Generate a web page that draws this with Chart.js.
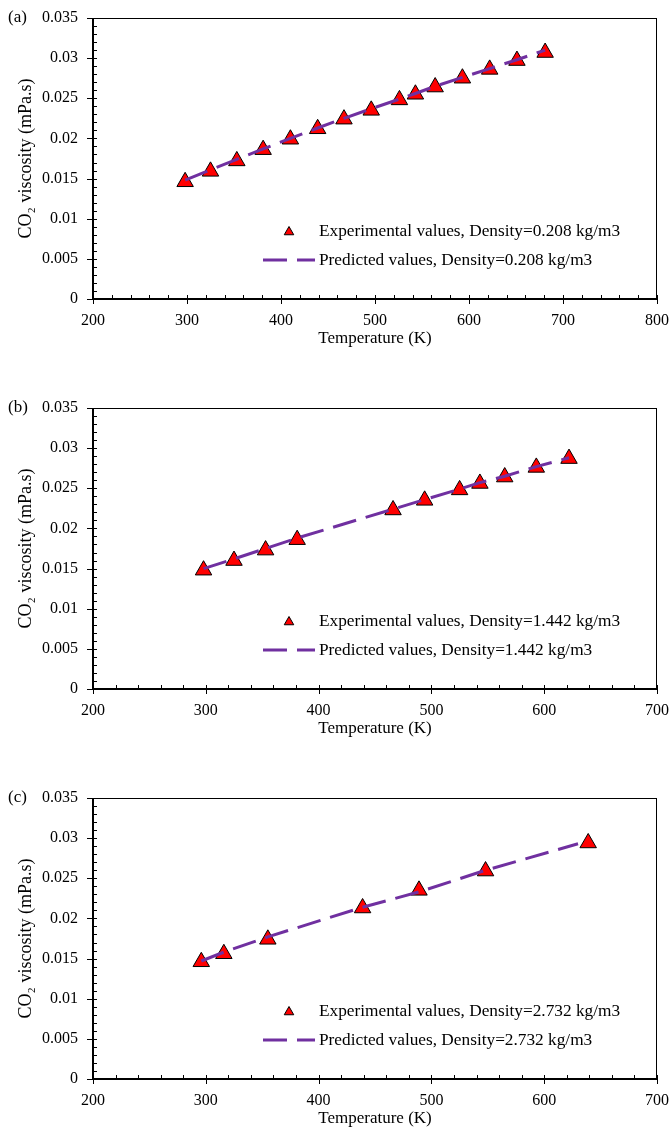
<!DOCTYPE html>
<html lang="en">
<head>
    <meta charset="UTF-8">
    <title>CO2 viscosity</title>
    <script src="https://cdn.jsdelivr.net/npm/chart.js"></script>
    <style>
        html, body { margin: 0; padding: 0; background: #fff; overflow: hidden; }
        .panel { position: absolute; left: 0; width: 670px; height: 390px; }
    </style>
</head>
<body>
    <div class="panel" style="top:0"><canvas id="chartA" width="670" height="390"></canvas></div>
    <div class="panel" style="top:390px"><canvas id="chartB" width="670" height="390"></canvas></div>
    <div class="panel" style="top:780px"><canvas id="chartC" width="670" height="390"></canvas></div>

    <script>
        // (a) density 0.208 kg/m3
        const tempA = [298, 325, 353, 381, 410, 439, 467, 496, 526, 543, 564, 593, 622, 651, 681];
        const viscA = [0.0146, 0.0159, 0.0172, 0.0186, 0.0199, 0.0212, 0.0224, 0.0235, 0.0248, 0.0255, 0.0264, 0.0275, 0.0286, 0.0297, 0.0307];
        const predTempA = [298, 325, 353, 381, 410, 439, 467, 496, 526, 543, 564, 593, 622, 651, 681];
        const predViscA = [0.0148, 0.0161, 0.0174, 0.0187, 0.0200, 0.0213, 0.0225, 0.0237, 0.0249, 0.0256, 0.0265, 0.0276, 0.0287, 0.0298, 0.0310];

        // (b) density 1.442 kg/m3
        const tempB = [298, 325, 353, 381, 466, 494, 525, 543, 565, 593, 622];
        const viscB = [0.0148, 0.0160, 0.0173, 0.0186, 0.0223, 0.0235, 0.0248, 0.0256, 0.0264, 0.0276, 0.0287];
        const predTempB = [298, 325, 353, 381, 466, 494, 525, 543, 565, 593, 622];
        const predViscB = [0.0150, 0.0162, 0.0175, 0.0188, 0.0224, 0.0236, 0.0249, 0.0257, 0.0265, 0.0277, 0.0288];

        // (c) density 2.732 kg/m3
        const tempC = [296, 316, 355, 439, 489, 548, 639];
        const viscC = [0.0146, 0.0156, 0.0174, 0.0213, 0.0235, 0.0259, 0.0294];
        const predTempC = [296, 316, 355, 439, 489, 548, 630];
        const predViscC = [0.0147, 0.0158, 0.0177, 0.0214, 0.0233, 0.0260, 0.0293];

        const yTicks = [0, 0.005, 0.01, 0.015, 0.02, 0.025, 0.03, 0.035];
        const xMaxA = 800, xMaxBC = 700;

        const FONT = "'Liberation Serif', 'Times New Roman', serif";

        // box, outward major ticks, inward minor ticks, panel tag
        const frame = {
            id: 'frame',
            afterDatasetsDraw(chart, args, opts) {
                const { ctx, chartArea: a, scales: { x, y } } = chart;
                ctx.save();
                ctx.strokeStyle = '#000';
                ctx.lineWidth = 1;
                ctx.beginPath();
                ctx.moveTo(a.left, a.top + 0.5); ctx.lineTo(a.right, a.top + 0.5);
                ctx.moveTo(a.right - 0.5, a.top); ctx.lineTo(a.right - 0.5, a.bottom);
                ctx.stroke();

                // minor ticks inside
                ctx.beginPath();
                for (let i = 0; x.min + i * opts.xMinor <= x.max; i++) {
                    const px = Math.round(x.getPixelForValue(x.min + i * opts.xMinor)) + 0.5;
                    ctx.moveTo(px, a.bottom); ctx.lineTo(px, a.bottom - 4);
                }
                for (let i = 0; y.min + i * opts.yMinor <= y.max + 1e-9; i++) {
                    const py = Math.round(y.getPixelForValue(y.min + i * opts.yMinor)) + 0.5;
                    ctx.moveTo(a.left, py); ctx.lineTo(a.left + 4, py);
                }
                ctx.stroke();

                // major ticks outside
                ctx.beginPath();
                x.ticks.forEach(t => {
                    const px = Math.round(x.getPixelForValue(t.value)) + 0.5;
                    ctx.moveTo(px, a.bottom); ctx.lineTo(px, a.bottom + 5);
                });
                y.ticks.forEach(t => {
                    const py = Math.round(y.getPixelForValue(t.value)) + 0.5;
                    ctx.moveTo(a.left, py); ctx.lineTo(a.left - 6, py);
                });
                ctx.stroke();

                // axis lines
                ctx.lineWidth = 2;
                ctx.beginPath();
                ctx.moveTo(a.left, a.top); ctx.lineTo(a.left, a.bottom);
                ctx.lineTo(a.right, a.bottom);
                ctx.stroke();

                ctx.fillStyle = '#000';
                ctx.font = '17px ' + FONT;
                ctx.textAlign = 'left';
                ctx.textBaseline = 'middle';
                ctx.fillText(opts.tag, 8, a.top);
                ctx.restore();
            }
        };

        // legend drawn inside the plot area
        const keyBox = {
            id: 'keyBox',
            afterDraw(chart) {
                const { ctx, chartArea: a } = chart;
                const [pred, exp] = chart.data.datasets;
                const row1 = a.top + 213, row2 = a.top + 242;
                ctx.save();
                ctx.fillStyle = exp.backgroundColor;
                ctx.strokeStyle = exp.borderColor;
                ctx.lineWidth = 1;
                Chart.helpers.drawPoint(ctx, { pointStyle: 'triangle', radius: 5.5, rotation: 0, borderWidth: 1 }, a.left + 196, row1 + 1);

                ctx.strokeStyle = pred.borderColor;
                ctx.lineWidth = pred.borderWidth;
                ctx.setLineDash(pred.borderDash);
                ctx.beginPath();
                ctx.moveTo(a.left + 170, row2); ctx.lineTo(a.left + 222, row2);
                ctx.stroke();
                ctx.setLineDash([]);

                ctx.fillStyle = '#000';
                ctx.font = '17.3px ' + FONT;
                ctx.textAlign = 'left';
                ctx.textBaseline = 'middle';
                ctx.fillText(exp.label, a.left + 226, row1);
                ctx.fillText(pred.label, a.left + 226, row2);
                ctx.restore();
            }
        };

        function toPoints(xs, ys) {
            return xs.map((t, i) => ({ x: t, y: ys[i] }));
        }

        function makePanel(id, tag, xMax, expT, expV, predT, predV, density) {
            const ctx = document.getElementById(id).getContext('2d');
            return new Chart(ctx, {
                type: 'scatter',
                data: {
                    datasets: [{
                        label: 'Predicted values, Density=' + density + ' kg/m3',
                        data: toPoints(predT, predV),
                        showLine: true,
                        borderColor: '#7030A0',
                        borderWidth: 3,
                        borderDash: [24, 10],
                        pointRadius: 0,
                        pointHoverRadius: 0,
                        fill: false,
                        tension: 0,
                        order: 0
                    }, {
                        label: 'Experimental values, Density=' + density + ' kg/m3',
                        data: toPoints(expT, expV),
                        pointStyle: 'triangle',
                        pointRadius: 9.5,
                        pointHoverRadius: 9.5,
                        backgroundColor: '#FF0000',
                        borderColor: '#000000',
                        borderWidth: 1,
                        order: 1
                    }]
                },
                options: {
                    responsive: false,
                    animation: false,
                    events: [],
                    layout: { padding: { left: 0, right: 13, top: 18, bottom: 0 } },
                    plugins: {
                        legend: { display: false },
                        tooltip: { enabled: false },
                        frame: { tag: tag, xMinor: 20, yMinor: 0.001 }
                    },
                    scales: {
                        x: {
                            type: 'linear',
                            min: 200,
                            max: xMax,
                            grid: { display: false, drawTicks: false },
                            border: { display: false },
                            afterFit(s) { s.height = 91; s.paddingLeft = 0; s.paddingRight = 0; },
                            ticks: {
                                stepSize: 100,
                                maxRotation: 0,
                                padding: 12,
                                color: '#000',
                                font: { family: FONT, size: 16 }
                            },
                            title: {
                                display: true,
                                text: 'Temperature (K)',
                                color: '#000',
                                font: { family: FONT, size: 17 },
                                padding: { top: 0, bottom: 41 }
                            }
                        },
                        y: {
                            min: 0,
                            max: 0.035,
                            grid: { display: false, drawTicks: false },
                            border: { display: false },
                            afterFit(s) { s.width = 93; s.paddingTop = 0; s.paddingBottom = 0; },
                            afterBuildTicks(s) { s.ticks = yTicks.map(v => ({ value: v })); },
                            ticks: {
                                padding: 15,
                                color: '#000',
                                font: { family: FONT, size: 16 },
                                callback: v => String(+v.toFixed(3))
                            },
                            title: {
                                display: true,
                                text: 'CO₂ viscosity (mPa.s)',
                                color: '#000',
                                font: { family: FONT, size: 18 },
                                padding: { top: 15, bottom: 0 }
                            }
                        }
                    }
                },
                plugins: [frame, keyBox]
            });
        }

        makePanel('chartA', '(a)', xMaxA, tempA, viscA, predTempA, predViscA, '0.208');
        makePanel('chartB', '(b)', xMaxBC, tempB, viscB, predTempB, predViscB, '1.442');
        makePanel('chartC', '(c)', xMaxBC, tempC, viscC, predTempC, predViscC, '2.732');
    </script>
</body>
</html>
